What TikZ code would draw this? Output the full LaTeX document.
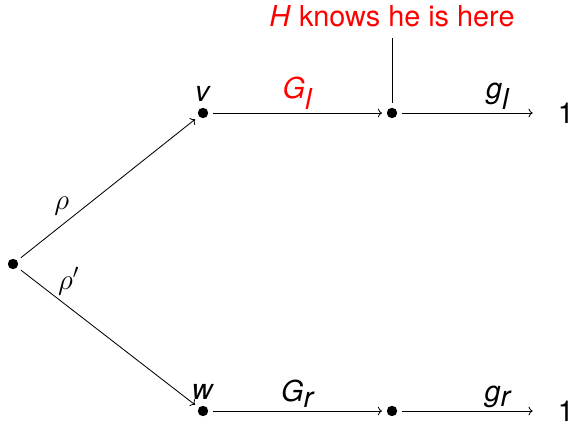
\documentclass[tikz,border=0pt]{standalone}
\usepackage{fontspec}
\setmainfont{TeX Gyre Heros}
\usetikzlibrary{arrows.meta}

\begin{document}
\begin{tikzpicture}[x=0.025cm,y=-0.025cm,font=\fontsize{20.5}{24}\selectfont,>=To,
  dot/.style={circle,fill,inner sep=0pt,minimum size=0.26cm,outer sep=0.12cm},
  move/.style={->,line width=0.6pt},
  payoff/.style={inner sep=1pt}]
\useasboundingbox (0,0) rectangle (574,425);
% the game tree
\node[dot] (root) at (13,264) {};
\node[dot,label={[inner sep=1pt]above:\textit{v}}] (v) at (203,113) {};
\node[dot] (vh) at (392,113) {};
\node[payoff] (vend) at (566,113) {1};
\node[dot,label={[inner sep=1pt]above:\textit{w}}] (w) at (203,411) {};
\node[dot] (wh) at (392,411) {};
\node[payoff] (wend) at (566,411) {1};
\node[red,anchor=base] (know) at (392,27) {\textit{H} knows he is here};
\draw[move] (root) -- node[pos=.29,above left=-2pt]{$\rho$} (v);
\draw[move] (root) -- node[pos=.2,above right=-2pt]{$\rho'$} (w);
\draw[move] (v) -- node[above=-1pt,red]{\textit{G}$_\textit{l}$} (vh);
\draw[move,shorten >=0.59cm] (vh) -- node[pos=.62,above=-1pt]{\textit{g}$_\textit{l}$} (vend);
\draw[move] (w) -- node[above=-1pt]{\textit{G}$_\textit{r}$} (wh);
\draw[move,shorten >=0.59cm] (wh) -- node[pos=.62,above=-1pt]{\textit{g}$_\textit{r}$} (wend);
\draw[line width=0.6pt,shorten <=0.15cm] (know) -- (vh);
\end{tikzpicture}
\end{document}
